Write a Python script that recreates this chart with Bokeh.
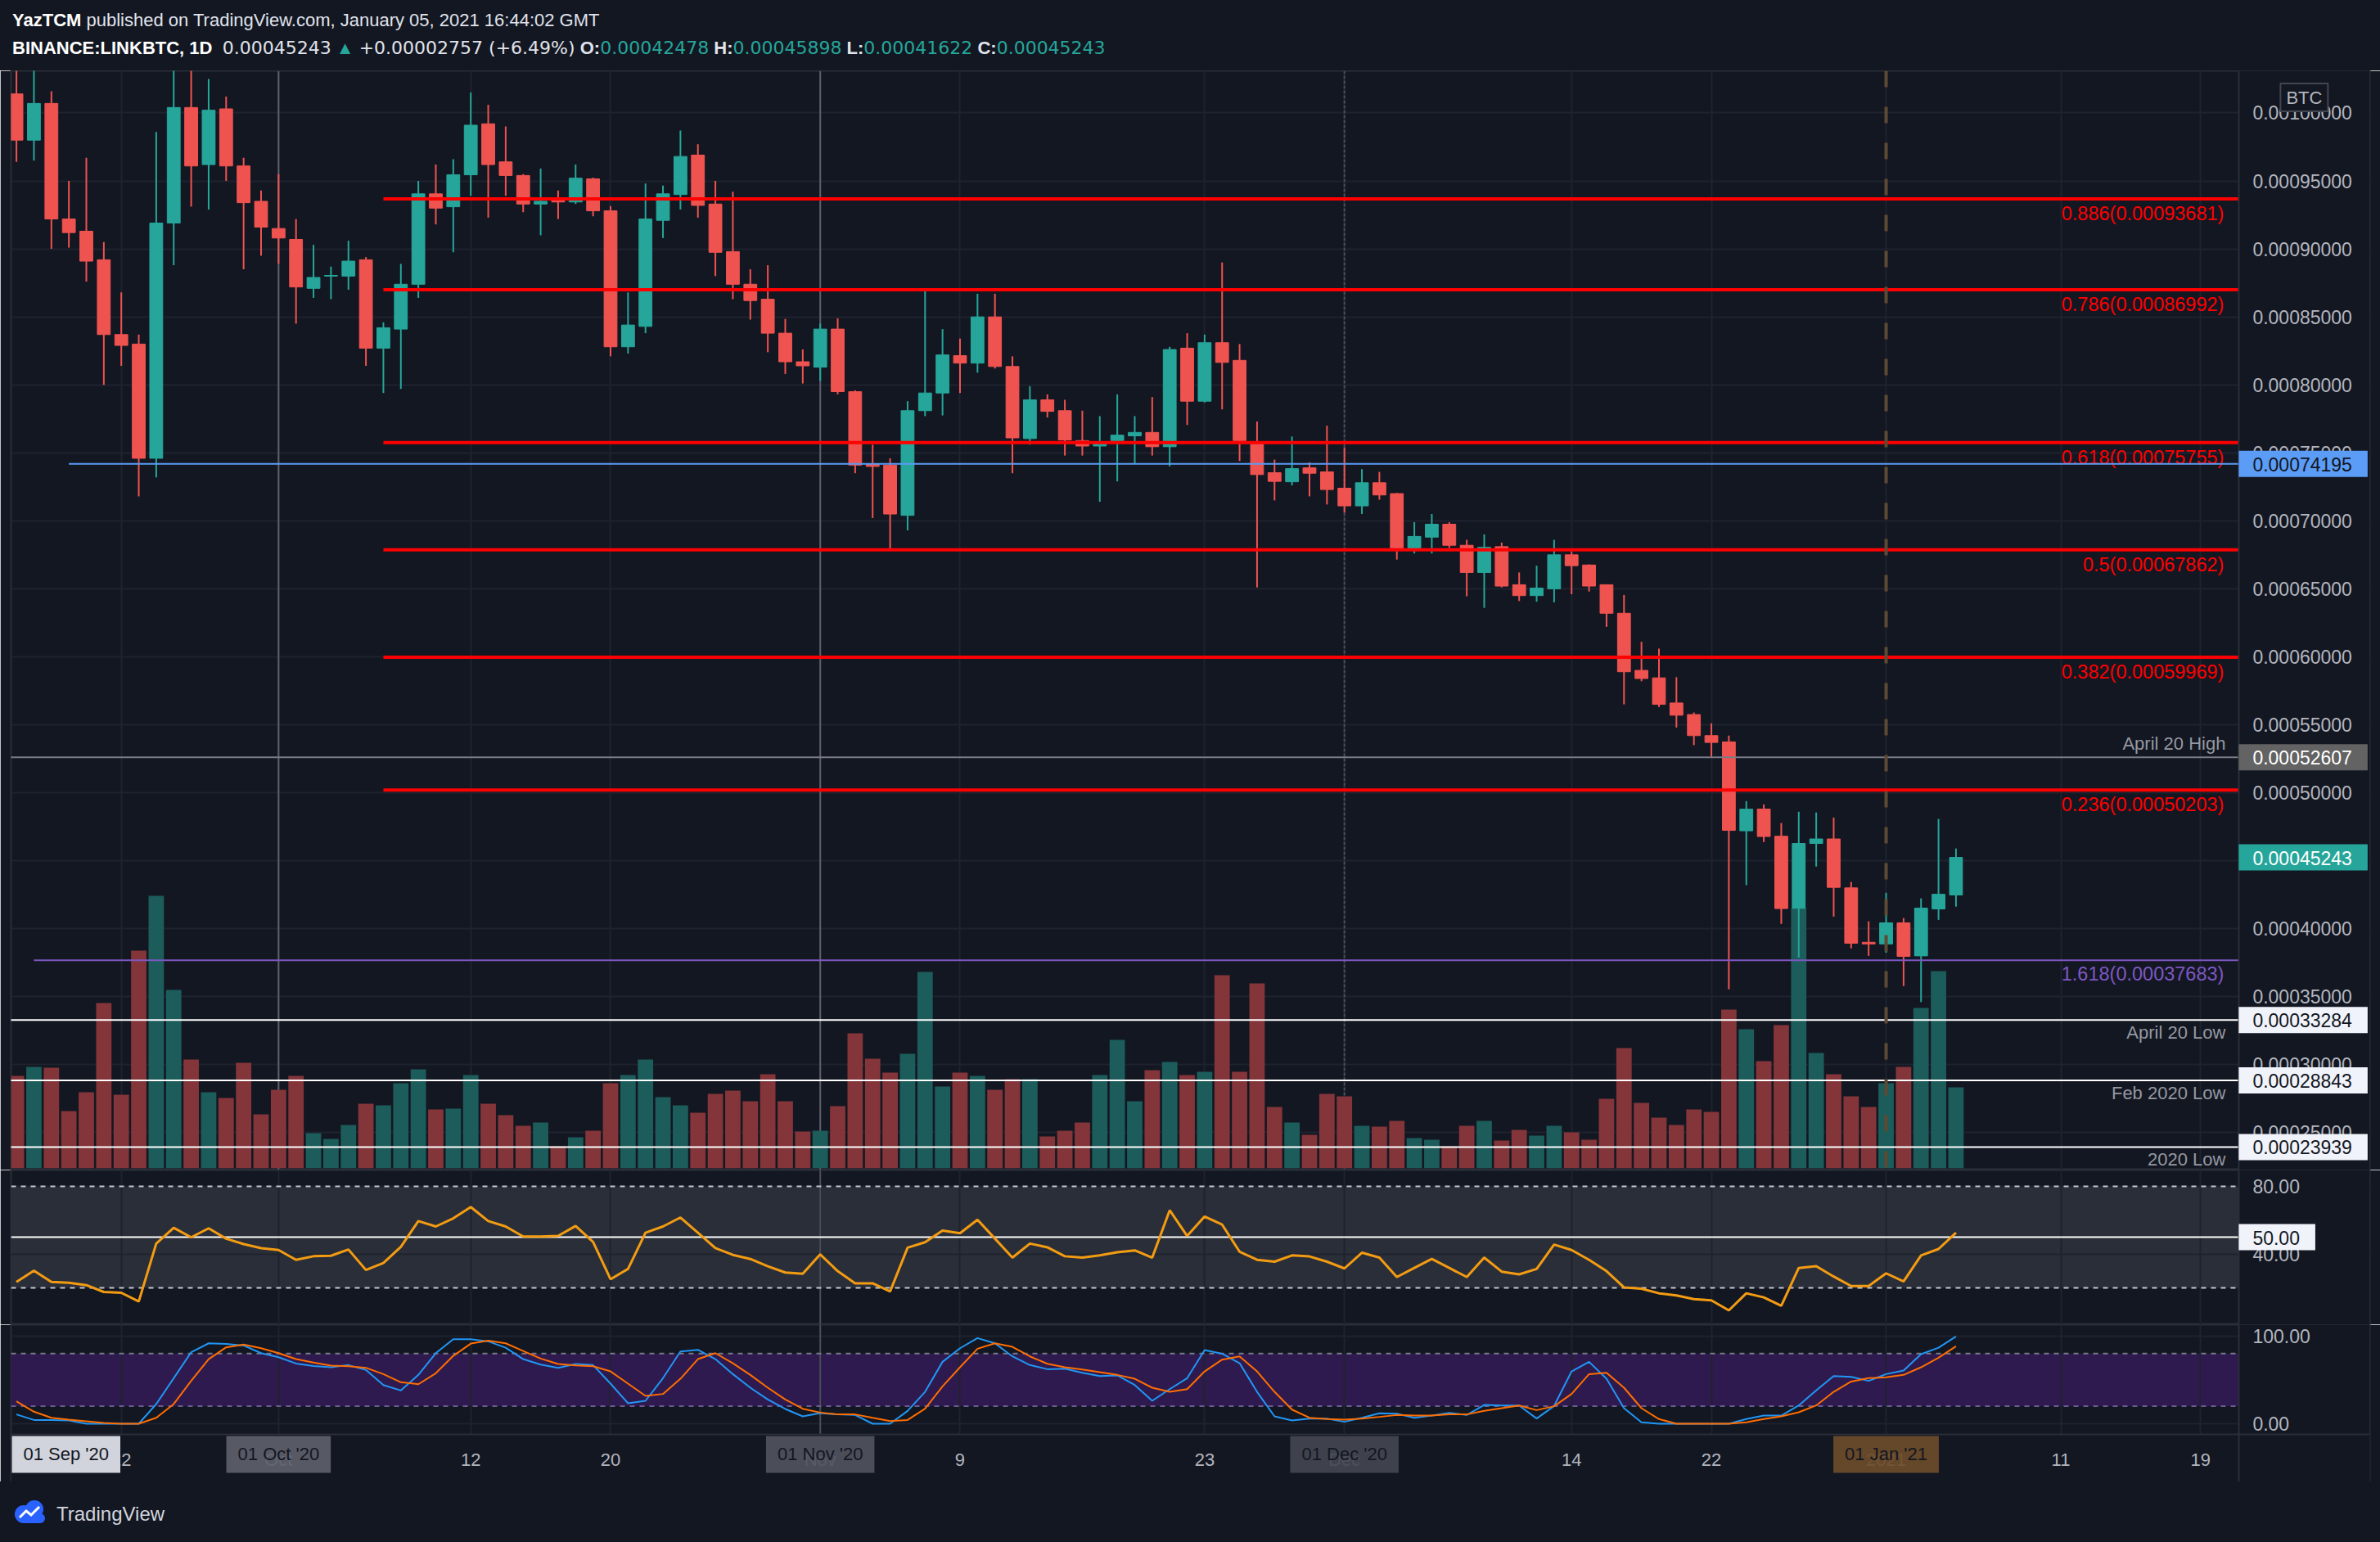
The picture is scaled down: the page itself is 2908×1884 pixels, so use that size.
import numpy as np
import pandas as pd
from bokeh.plotting import figure
from bokeh.models import (ColumnDataSource, Range1d, FixedTicker, Span, Label, Div,
                          PrintfTickFormatter, BoxAnnotation, LinearAxis)
from bokeh.layouts import column
from bokeh.embed import file_html
from bokeh.resources import INLINE
from bokeh.core.properties import value

# ---------------- data (prices in units of 1e-5 BTC) ----------------
START = "2020-09-16"
dates = pd.date_range(START, periods=112, freq="D")

open_ = [101.4, 98.0, 100.7, 92.2, 91.3, 89.2, 83.7, 83.0, 74.6, 91.9, 100.4, 96.2, 100.3, 96.1, 93.5,
         91.5, 90.7, 87.1, 88.0, 88.0, 89.2, 82.7, 84.1, 87.4, 94.05, 93.1, 95.45, 99.2, 96.4, 95.4,
         93.3, 93.7, 93.45, 95.15, 92.8, 82.8, 84.3, 92.1, 94.0, 96.9, 93.3, 89.8, 87.4, 86.3, 83.8,
         81.7, 81.3, 84.1, 79.5, 74.15, 74.1, 70.4, 78.1, 79.4, 82.15, 81.6, 85.0, 81.35, 76.05, 78.9,
         78.1, 75.9, 75.5, 75.9, 76.25, 76.5, 75.45, 82.7, 78.8, 83.1, 81.8, 75.65, 73.54, 72.87, 73.9,
         73.6, 72.4, 71.1, 72.8, 72.0, 68.0, 68.8, 69.75, 68.2, 66.2, 68.1, 65.3, 64.5, 65.0, 67.5,
         66.75, 65.3, 63.2, 59.0, 58.45, 56.6, 55.75, 54.2, 53.74, 47.2, 48.8, 46.8, 41.5, 46.27, 46.6,
         43.0, 39.0, 38.88, 40.43, 38.0, 41.45, 42.478]
high = [105.0, 105.0, 101.6, 95.0, 96.7, 90.5, 86.8, 83.7, 98.6, 104.5, 103.8, 102.5, 101.2, 96.7, 94.3,
        95.5, 92.2, 90.3, 88.7, 90.6, 89.4, 84.6, 88.9, 95.0, 96.2, 96.6, 101.5, 100.6, 99.0, 95.5,
        95.9, 94.3, 96.2, 95.25, 93.15, 86.8, 94.8, 94.65, 98.7, 97.7, 95.0, 94.2, 88.5, 88.8, 84.85,
        82.6, 84.5, 84.9, 79.6, 75.6, 74.6, 78.8, 86.9, 84.1, 83.4, 86.7, 86.7, 82.1, 79.9, 79.3,
        78.9, 78.1, 77.7, 79.3, 77.7, 79.1, 82.8, 83.8, 83.7, 89.0, 83.0, 77.3, 74.5, 76.2, 74.3,
        77.0, 75.4, 73.8, 73.6, 72.05, 69.9, 70.5, 69.9, 68.6, 69.0, 68.4, 66.2, 66.7, 68.6, 67.75,
        66.8, 65.3, 64.55, 61.1, 60.6, 58.5, 55.9, 55.1, 54.2, 49.38, 49.14, 47.77, 48.6, 48.55, 48.17,
        43.44, 40.54, 42.64, 40.78, 42.23, 48.07, 45.898]
low = [96.4, 96.5, 90.0, 90.1, 87.6, 80.0, 81.4, 71.8, 73.2, 88.8, 93.1, 92.9, 95.0, 88.5, 89.5,
       88.9, 84.5, 86.4, 86.3, 87.0, 81.4, 79.4, 79.7, 86.4, 91.8, 89.75, 93.9, 92.3, 93.9, 92.7,
       91.0, 92.2, 93.3, 92.4, 82.1, 82.3, 83.8, 90.8, 92.9, 92.3, 88.0, 86.3, 84.8, 82.4, 80.8,
       80.1, 80.3, 79.3, 73.5, 70.2, 67.8, 69.3, 77.7, 77.75, 79.4, 80.9, 81.2, 73.5, 75.6, 77.6,
       74.8, 74.8, 71.4, 72.9, 74.2, 74.8, 74.0, 77.05, 78.7, 78.2, 74.4, 65.1, 71.5, 72.6, 71.8,
       71.2, 70.6, 70.5, 71.55, 67.15, 67.6, 67.6, 68.0, 64.45, 63.6, 65.1, 64.1, 64.05, 64.0, 64.6,
       64.8, 62.2, 56.5, 58.2, 56.3, 54.8, 53.5, 52.6, 35.54, 43.2, 46.37, 40.35, 37.88, 44.57, 40.89,
       38.55, 38.0, 38.23, 35.78, 34.6, 40.65, 41.622]
close = [98.0, 100.7, 92.2, 91.2, 89.1, 83.7, 82.9, 74.6, 91.9, 100.4, 96.1, 100.2, 96.1, 93.4, 91.6,
         90.8, 87.2, 87.9, 88.05, 89.1, 82.7, 84.2, 87.4, 94.05, 93.0, 95.45, 99.1, 96.2, 95.4, 93.3,
         93.5, 93.45, 95.2, 92.8, 82.8, 84.4, 92.2, 94.05, 96.8, 93.2, 89.75, 87.4, 86.2, 83.8, 81.7,
         81.4, 84.1, 79.5, 74.1, 74.0, 70.5, 78.1, 79.4, 82.2, 81.6, 85.0, 81.35, 76.1, 78.9, 78.05,
         75.95, 75.5, 75.7, 76.3, 76.5, 75.45, 82.6, 78.8, 83.1, 81.65, 75.9, 73.4, 72.9, 73.84, 73.5,
         72.3, 71.1, 72.8, 71.9, 68.0, 68.85, 69.75, 68.2, 66.2, 68.05, 65.2, 64.5, 65.05, 67.5, 66.7,
         65.2, 63.2, 58.9, 58.4, 56.5, 55.7, 54.2, 53.7, 47.23, 48.79, 46.78, 41.48, 46.27, 46.6, 43.04,
         38.93, 38.88, 40.43, 37.96, 41.51, 42.53, 45.243]
# volume, thousand LINK
volume = [1127, 1237, 1227, 697, 927, 2017, 897, 2657, 3327, 2177, 1327, 927, 857, 1287, 657,
          957, 1127, 427, 357, 527, 787, 767, 1037, 1207, 717, 727, 1137, 787, 647, 517,
          557, 267, 377, 457, 1037, 1137, 1327, 867, 767, 677, 907, 947, 817, 1147, 817,
          447, 457, 757, 1647, 1337, 1167, 1397, 2397, 997, 1167, 1127, 957, 1087, 1087, 387,
          457, 557, 1137, 1567, 817, 1197, 1297, 1137, 1177, 2357, 1177, 2257, 747, 557, 407,
          907, 877, 517, 507, 577, 367, 347, 267, 517, 577, 337, 467, 397, 517, 437,
          347, 847, 1467, 797, 617, 527, 717, 687, 1937, 1697, 1307, 1747, 3180, 1407, 1147,
          877, 747, 1037, 1237, 1957, 2407, 987]
rsi = [23.5, 30.2, 23.5, 23.0, 21.6, 17.6, 17.1, 12.0, 46.2, 55.5, 49.9, 55.2, 49.1, 45.9, 43.5,
       42.4, 36.6, 38.7, 39.0, 42.7, 30.6, 34.7, 44.3, 59.5, 56.3, 61.1, 67.8, 59.5, 56.3, 50.4,
       50.4, 50.7, 56.6, 47.2, 25.1, 31.2, 52.6, 56.3, 61.6, 52.6, 43.5, 39.5, 37.1, 32.8, 29.1,
       28.3, 39.8, 29.9, 22.7, 22.7, 17.9, 43.8, 47.0, 53.9, 52.3, 60.3, 49.1, 37.9, 46.2, 44.0,
       38.7, 37.9, 39.2, 41.1, 42.2, 37.9, 65.9, 50.7, 62.2, 57.4, 41.4, 36.6, 35.5, 39.2, 38.6,
       35.5, 31.5, 40.8, 37.9, 26.4, 31.8, 37.1, 31.8, 26.4, 37.9, 29.6, 28.0, 31.2, 45.6, 42.4,
       36.6, 29.9, 20.3, 19.5, 16.8, 15.5, 13.4, 12.6, 6.7, 16.8, 14.4, 9.4, 31.8, 32.8, 26.7,
       21.1, 21.1, 28.6, 23.8, 39.2, 43.0, 52.6]
stoch_k = [10.6, 4.3, 4.3, 3.7, 0, 0, 0, 0, 22.4, 51.9, 81.4, 91.6, 91.0, 89.1, 80.4,
           75.8, 68.6, 65.8, 64.3, 66.8, 61.2, 44.1, 37.9, 55.6, 80.4, 96.3, 96.3, 93.8, 86.6, 73.6,
           67.4, 63.7, 68.0, 66.8, 45.7, 23.3, 26.1, 51.9, 82.3, 84.2, 73.6, 56.5, 41.0, 27.6, 16.8,
           8.4, 12.1, 10.6, 9.9, 0, 0, 14.6, 36.3, 70.5, 86.0, 97.5, 91.6, 76.7, 66.8, 62.1,
           62.7, 58.1, 54.3, 55.0, 44.1, 26.1, 39.4, 51.9, 83.9, 79.8, 68.9, 36.3, 8.4, 3.7, 5.9,
           5.9, 2.2, 6.8, 11.8, 11.5, 6.8, 9.3, 12.4, 9.9, 21.4, 20.8, 20.8, 5.9, 20.2, 59.6,
           70.5, 51.2, 17.7, 1.6, 0, 0, 0, 0, 0, 5.3, 9.3, 9.3, 20.8, 37.9, 54.3,
           53.4, 48.8, 56.5, 60.6, 79.2, 86.6, 99.4]
stoch_d = [25.5, 13.7, 6.8, 4.7, 2.8, 0.9, 0, 0, 6.8, 22.4, 48.8, 73.6, 87.0, 90.1, 86.0,
           80.4, 73.6, 69.6, 66.1, 65.5, 63.7, 56.5, 47.2, 45.0, 57.5, 77.3, 91.3, 94.7, 91.6, 82.9,
           74.2, 68.0, 66.5, 65.5, 59.6, 45.7, 31.7, 33.9, 51.2, 73.6, 80.4, 68.9, 55.6, 41.0, 27.6,
           17.1, 12.7, 10.6, 10.6, 6.8, 3.1, 4.3, 17.1, 42.5, 64.3, 85.4, 91.6, 87.6, 76.7, 68.3,
           64.3, 61.8, 58.7, 55.6, 51.2, 41.0, 36.3, 39.4, 59.6, 73.0, 76.7, 59.6, 36.3, 16.1, 6.8,
           5.3, 4.7, 5.9, 7.8, 9.9, 9.3, 9.3, 10.6, 10.6, 14.6, 17.7, 20.8, 15.5, 19.9, 33.9,
           56.5, 58.1, 41.0, 17.7, 5.3, 0, 0, 0, 0, 1.6, 5.3, 8.4, 13.0, 20.8, 36.3,
           48.1, 51.9, 52.8, 55.6, 64.3, 75.2, 88.2]

fib_ratio = ["0.886", "0.786", "0.618", "0.5", "0.382", "0.236"]
fib_price = [0.00093681, 0.00086992, 0.00075755, 0.00067862, 0.00059969, 0.00050203]
fib_anchor = "2020-10-07"
ext_ratio, ext_price, ext_anchor = "1.618", 0.00037683, "2020-09-17"
marked_price, marked_anchor = 0.00074195, "2020-09-19"
hi_name, hi_price = "April 20 High", 0.00052607
low_names = ["April 20 Low", "Feb 2020 Low", "2020 Low"]
low_prices = [0.00033284, 0.00028843, 0.00023939]
price_ticks = [0.00025, 0.00030, 0.00035, 0.00040, 0.00045, 0.00050, 0.00055, 0.00060,
               0.00065, 0.00070, 0.00075, 0.00080, 0.00085, 0.00090, 0.00095, 0.00100]
tick_dates = ["2020-09-22", "2020-10-01", "2020-10-12", "2020-10-20", "2020-11-01", "2020-11-09",
              "2020-11-23", "2020-12-01", "2020-12-14", "2020-12-22", "2021-01-01", "2021-01-11",
              "2021-01-19"]
tick_labels = ["22", "Oct", "12", "20", "Nov", "9", "23", "Dec", "14", "22", "2021", "11", "19"]
marker_dates = ["2020-09-01", "2020-10-01", "2020-11-01", "2020-12-01", "2021-01-01"]
marker_texts = ["01 Sep '20", "01 Oct '20", "01 Nov '20", "01 Dec '20", "01 Jan '21"]

# ---------------- helpers ----------------
SCALE = 1e-5
t0 = pd.Timestamp(START)
def day_index(d):
    return (pd.Timestamp(d) - t0).days

idx = np.arange(len(dates))
o = np.array(open_) * SCALE
h = np.array(high) * SCALE
l = np.array(low) * SCALE
c = np.array(close) * SCALE
up = c >= o
UP, DN = "#26a69a", "#ef5350"
VUP, VDN = "#1c5c5b", "#833539"
BG = "#131722"
GRID = "#1f232e"
TXT = "#b2b5be"
FONT = "Liberation Sans"
NUMFONT = "DejaVu Sans"

W = 2908
XR = Range1d(-0.309, 134.68)   # frame spans the price-scale column too
AXIS_X = 127.18                # where the price scale begins
tick_idx = [day_index(d) for d in tick_dates]

def pane(height, yr):
    f = figure(width=W, height=height, x_range=XR, y_range=yr,
               x_axis_location=None, y_axis_location="right",
               output_backend="svg", toolbar_location=None,
               min_border_left=13, min_border_right=13, min_border_top=0, min_border_bottom=0,
               background_fill_color=BG, border_fill_color=BG,
               outline_line_color="#2a2e39", outline_line_width=2)
    f.xgrid.ticker = FixedTicker(ticks=tick_idx)
    f.xgrid.grid_line_color = GRID
    f.xgrid.grid_line_width = 2
    f.ygrid.grid_line_color = GRID
    f.ygrid.grid_line_width = 2
    ax = f.yaxis[0]
    ax.fixed_location = AXIS_X
    ax.axis_line_color = "#2a2e39"
    ax.axis_line_width = 2
    ax.major_tick_line_color = None
    ax.minor_tick_line_color = None
    ax.major_tick_out = 0
    ax.major_tick_in = 0
    ax.major_label_standoff = 17
    ax.major_label_text_color = TXT
    ax.major_label_text_font = FONT
    ax.major_label_text_font_size = "23px"
    # hide grid lines inside the scale column
    f.add_layout(BoxAnnotation(left=AXIS_X, fill_color=BG, fill_alpha=1.0, line_color=None,
                               level="glyph"))
    return f

def axis_box(f, y, text, bg, fg):
    f.add_layout(Label(x=AXIS_X, y=y, text=text, text_align="left", text_baseline="middle",
                       text_color=fg, text_font=FONT, text_font_size="23px",
                       background_fill_color=bg, background_fill_alpha=1.0,
                       padding=dict(left=17, right=19, top=8, bottom=7)))

# ---------------- price pane ----------------
p = pane(1343, Range1d(22.25e-5, 103.10e-5))
p.extra_y_ranges = {"vol": Range1d(-23, 13407)}
p.yaxis.ticker = FixedTicker(ticks=price_ticks)
p.yaxis.formatter = PrintfTickFormatter(format="%.8f")

src = ColumnDataSource(dict(x=idx, o=o, h=h, l=l, c=c,
                            top=np.maximum(o, c), bot=np.minimum(o, c),
                            color=np.where(up, UP, DN), vol=volume,
                            vcolor=np.where(up, VUP, VDN)))
p.vbar(x="x", width=0.88, top="vol", bottom=0, y_range_name="vol", source=src,
       fill_color="vcolor", line_color=None)

for d, col, dash in [("2020-10-01", "#5d606b", "solid"), ("2020-11-01", "#5d606b", "solid"),
                     ("2020-12-01", "#4a4e5a", "4 2")]:
    p.add_layout(Span(location=day_index(d), dimension="height", line_color=col,
                      line_width=2, line_dash=dash, level="underlay"))

p.segment(x0="x", y0="l", x1="x", y1="h", source=src, line_color="color", line_width=2)
p.vbar(x="x", width=0.74, top="top", bottom="bot", source=src,
       fill_color="color", line_color="color", line_width=1)

p.add_layout(Span(location=day_index("2021-01-01"), dimension="height", line_color="#5e4a33",
                  line_width=4, line_dash="20 24"))

# fib lines
fa = day_index(fib_anchor)
p.segment(x0=fa, x1=AXIS_X, y0=fib_price, y1=fib_price, line_color="#ff0000", line_width=4)
fsrc = ColumnDataSource(dict(y=fib_price, text=[f"{r}({v:.8f})" for r, v in zip(fib_ratio, fib_price)]))
p.text(x=AXIS_X, y="y", text="text", source=fsrc, text_align="right", text_baseline="top",
       x_offset=-18, y_offset=5, text_color="#ff0000", text_font=value(FONT), text_font_size="23.5px")
# extension
ea = day_index(ext_anchor)
p.segment(x0=ea, x1=AXIS_X, y0=ext_price, y1=ext_price, line_color="#7e57c2", line_width=2)
p.text(x=AXIS_X, y=ext_price, text=[f"{ext_ratio}({ext_price:.8f})"], text_align="right",
       text_baseline="top", x_offset=-18, y_offset=4, text_color="#7e57c2",
       text_font=value(FONT), text_font_size="23.5px")
# marked price
ma = day_index(marked_anchor)
p.segment(x0=ma, x1=AXIS_X, y0=marked_price, y1=marked_price, line_color="#5b9cf6", line_width=2)
# april high
p.segment(x0=-5, x1=AXIS_X, y0=hi_price, y1=hi_price, line_color="#787b86", line_width=2)
p.text(x=AXIS_X, y=hi_price, text=[hi_name], text_align="right", text_baseline="bottom",
       x_offset=-16, y_offset=-4, text_color="#9598a1", text_font=value(FONT), text_font_size="22px")
# lows
p.segment(x0=-5, x1=AXIS_X, y0=low_prices, y1=low_prices, line_color="#ffffff", line_width=2)
p.text(x=AXIS_X, y=low_prices, text=low_names, text_align="right", text_baseline="top",
       x_offset=-16, y_offset=3, text_color="#9598a1", text_font=value(FONT), text_font_size="22px")

axis_box(p, marked_price, f"{marked_price:.8f}", "#5b9cf6", "#131722")
axis_box(p, hi_price, f"{hi_price:.8f}", "#636363", "#ffffff")
axis_box(p, c[-1], f"{c[-1]:.8f}", "#26a69a", "#ffffff")
for v in low_prices:
    axis_box(p, v, f"{v:.8f}", "#f0f3fa", "#131722")
p.add_layout(Label(x=AXIS_X, y=101.15e-5, x_offset=51, text="BTC", text_align="left",
                   text_baseline="middle", text_color=TXT, text_font=FONT, text_font_size="22px",
                   background_fill_color=BG, background_fill_alpha=1.0,
                   border_line_color="#434651", border_line_width=2,
                   padding=dict(left=7, right=7, top=5, bottom=4)))

# ---------------- RSI pane ----------------
r = pane(189, Range1d(-1.76, 89.68))
r.yaxis.ticker = FixedTicker(ticks=[40, 80])
r.yaxis.formatter = PrintfTickFormatter(format="%.2f")
r.add_layout(BoxAnnotation(bottom=20, top=80, right=AXIS_X, fill_color="#2a2e39", fill_alpha=1.0,
                           line_color=None, level="image"))
r.segment(x0=XR.start, x1=AXIS_X, y0=[80, 20], y1=[80, 20], line_color="#c3c6ce",
          line_width=2, line_dash="6 6")
r.segment(x0=XR.start, x1=AXIS_X, y0=50, y1=50, line_color="#ffffff", line_width=2)
r.add_layout(Span(location=day_index("2020-11-01"), dimension="height", line_color="#4a4d57",
                  line_width=2, level="underlay"))
r.line(idx, rsi, line_color="#f39c12", line_width=3)
axis_box(r, 50, "50.00", "#f0f3fa", "#131722")

# ---------------- Stoch RSI pane (+ time scale) ----------------
AX_Y = -12.1
s = pane(192, Range1d(-66.2, 112.8))
s.yaxis.ticker = FixedTicker(ticks=[0, 100])
s.yaxis.formatter = PrintfTickFormatter(format="%.2f")
s.add_layout(BoxAnnotation(bottom=20, top=80, right=AXIS_X, fill_color="#2e1a4f", fill_alpha=1.0,
                           line_color=None, level="image"))
s.segment(x0=XR.start, x1=AXIS_X, y0=80, y1=80, line_color="#787b86", line_width=2, line_dash="6 6")
s.segment(x0=XR.start, x1=AXIS_X, y0=20, y1=20, line_color="#6c5a92", line_width=2, line_dash="6 6")
s.add_layout(Span(location=day_index("2020-11-01"), dimension="height", line_color="#4a4d57",
                  line_width=2, level="underlay"))
s.line(idx, stoch_k, line_color="#2196f3", line_width=2)
s.line(idx, stoch_d, line_color="#ff6d00", line_width=2)
s.add_layout(BoxAnnotation(top=AX_Y, fill_color=BG, fill_alpha=1.0, line_color=None, level="glyph"))

xa = LinearAxis(fixed_location=AX_Y)
s.add_layout(xa, "below")
xa.ticker = FixedTicker(ticks=tick_idx)
xa.major_label_overrides = {float(i): t for i, t in zip(tick_idx, tick_labels)}
xa.axis_line_color = "#2a2e39"
xa.axis_line_width = 2
xa.major_tick_line_color = None
xa.minor_tick_line_color = None
xa.major_tick_out = 0
xa.major_tick_in = 0
xa.major_label_standoff = 19
xa.major_label_text_color = TXT
xa.major_label_text_font = FONT
xa.major_label_text_font_size = "22px"

box_cols = ["#d1d4dc", "#5d606b", "#50535e", "#434651", "#6d4c2a"]
for d, t, bc in zip(marker_dates, marker_texts, box_cols):
    di = day_index(d)
    if di < XR.start:
        s.add_layout(Label(x=XR.start, y=-34.9, x_offset=1, text=t, text_align="left",
                           text_baseline="middle", text_color="#131722", text_font=FONT,
                           text_font_size="22px", background_fill_color=bc,
                           padding=dict(left=14, right=14, top=10, bottom=10)))
    else:
        s.add_layout(Label(x=di, y=-34.9, text=t, text_align="center", text_baseline="middle",
                           text_color="#131722", text_font=FONT, text_font_size="22px",
                           background_fill_color=bc, background_fill_alpha=0.92,
                           padding=dict(left=14, right=14, top=10, bottom=10)))

# ---------------- header / footer ----------------
def num(x, color=None):
    st = f"font-family:'{NUMFONT}',sans-serif;"
    if color:
        st += f"color:{color};"
    return f'<span style="{st}">{x}</span>'
header_html = (
    '<div style="position:relative;width:2908px;height:86px;background:#131722;'
    "font-family:'Liberation Sans',sans-serif;font-size:22px;color:#e0e3eb;white-space:nowrap;\">"
    '<div style="position:absolute;left:15px;top:9px;"><b style="color:#ffffff">YazTCM</b> '
    'published on TradingView.com, January 05, 2021 16:44:02 GMT</div>'
    '<div style="position:absolute;left:15px;top:43px;"><b style="color:#ffffff">BINANCE:LINKBTC, 1D</b>'
    f'&nbsp; {num(f"{c[-1]:.8f}")} <span style="color:#26a69a">&#9650;</span> '
    f'{num("+0.00002757 (+6.49%)")} '
    f'<b>O:</b>{num(f"{o[-1]:.8f}", "#26a69a")} <b>H:</b>{num(f"{h[-1]:.8f}", "#26a69a")} '
    f'<b>L:</b>{num(f"{l[-1]:.8f}", "#26a69a")} <b>C:</b>{num(f"{c[-1]:.8f}", "#26a69a")}</div></div>')
header = Div(text=header_html, width=W, height=86, margin=(0, 0, 0, 0))

footer_html = (
    '<div style="position:relative;width:2908px;height:74px;background:#131722;">'
    '<svg style="position:absolute;left:15px;top:22px" width="44" height="30" viewBox="0 0 44 30">'
    '<circle cx="14" cy="18" r="11" fill="#2962ff"/><circle cx="27" cy="12" r="11" fill="#2962ff"/>'
    '<rect x="10" y="17" width="30" height="12" rx="6" fill="#2962ff"/>'
    '<path d="M9 22 L17 14 L23 19 L33 9" stroke="#ffffff" stroke-width="3" fill="none"/></svg>'
    "<span style=\"position:absolute;left:69px;top:23px;font-family:'Liberation Sans',sans-serif;"
    'font-size:24px;color:#d1d4dc;">TradingView</span></div>')
footer = Div(text=footer_html, width=W, height=74, margin=(0, 0, 0, 0))

layout = column(header, p, r, s, footer, spacing=0)
html = file_html(layout, INLINE, title="LINKBTC")
html = html.replace("<body>", '<body style="background-color:#131722;">', 1)
open("out.html", "w").write(html)
